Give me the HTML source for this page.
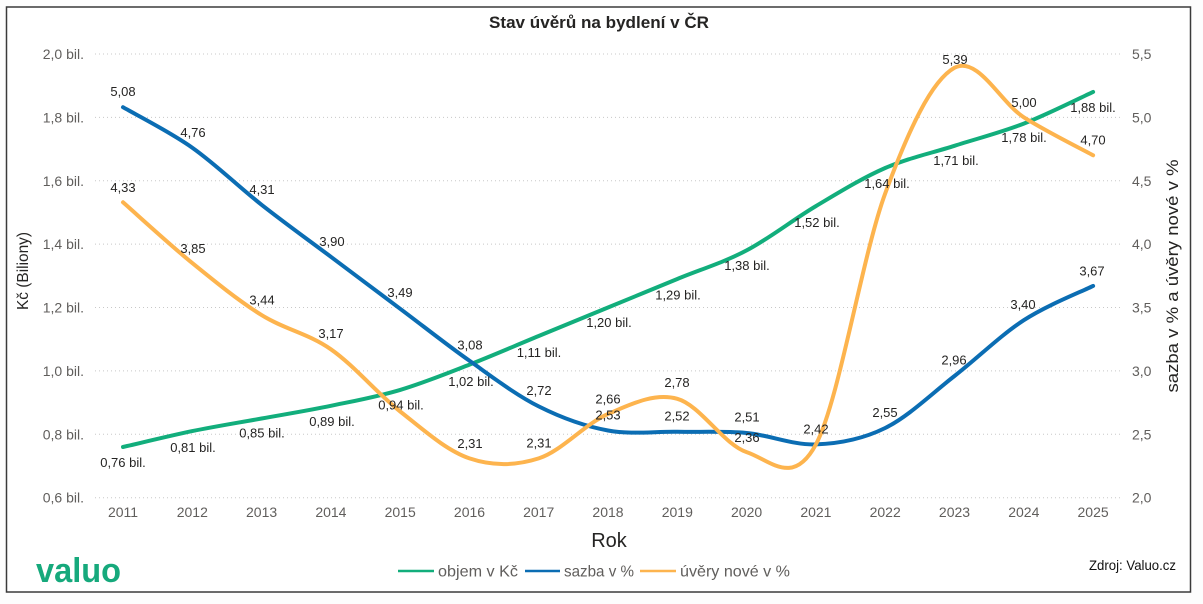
<!DOCTYPE html>
<html>
<head>
<meta charset="utf-8">
<style>
  html, body { margin:0; padding:0; background:#ffffff; }
  body { width:1203px; height:604px; overflow:hidden; }
  svg { display:block; font-family:"Liberation Sans", "DejaVu Sans", sans-serif; }
  .tick { font-size:14px; fill:#605E5C; }
  .lbl { font-size:13px; fill:#252423; text-anchor:middle; }
  .grid { stroke:#c8c8c8; stroke-width:1; stroke-dasharray:1 3; }
</style>
</head>
<body>
<svg width="1203" height="604" viewBox="0 0 1203 604" xmlns="http://www.w3.org/2000/svg">
  <rect x="0" y="0" width="1203" height="604" fill="#fdfdfd"/>
  <rect x="6.5" y="7" width="1184" height="585" fill="#ffffff" stroke="#3a3a3a" stroke-width="1.5"/>

  <!-- Title -->
  <text x="599" y="28" font-size="17" font-weight="bold" fill="#252423" text-anchor="middle" textLength="220" lengthAdjust="spacingAndGlyphs">Stav úvěrů na bydlení v ČR</text>

  <!-- Gridlines -->
  <g class="grid">
    <line x1="95" y1="54" x2="1122" y2="54"/>
    <line x1="95" y1="117.4" x2="1122" y2="117.4"/>
    <line x1="95" y1="180.8" x2="1122" y2="180.8"/>
    <line x1="95" y1="244.1" x2="1122" y2="244.1"/>
    <line x1="95" y1="307.5" x2="1122" y2="307.5"/>
    <line x1="95" y1="370.9" x2="1122" y2="370.9"/>
    <line x1="95" y1="434.3" x2="1122" y2="434.3"/>
    <line x1="95" y1="497.7" x2="1122" y2="497.7"/>
  </g>

  <!-- Left axis ticks -->
  <g class="tick" text-anchor="end">
    <text x="84" y="59">2,0 bil.</text>
    <text x="84" y="122.4">1,8 bil.</text>
    <text x="84" y="185.8">1,6 bil.</text>
    <text x="84" y="249.1">1,4 bil.</text>
    <text x="84" y="312.5">1,2 bil.</text>
    <text x="84" y="375.9">1,0 bil.</text>
    <text x="84" y="439.3">0,8 bil.</text>
    <text x="84" y="502.7">0,6 bil.</text>
  </g>

  <!-- Right axis ticks -->
  <g class="tick" text-anchor="start">
    <text x="1132" y="59">5,5</text>
    <text x="1132" y="122.4">5,0</text>
    <text x="1132" y="185.8">4,5</text>
    <text x="1132" y="249.1">4,0</text>
    <text x="1132" y="312.5">3,5</text>
    <text x="1132" y="375.9">3,0</text>
    <text x="1132" y="439.3">2,5</text>
    <text x="1132" y="502.7">2,0</text>
  </g>

  <!-- X axis ticks -->
  <g class="tick" text-anchor="middle">
    <text x="123.0" y="517">2011</text>
    <text x="192.3" y="517">2012</text>
    <text x="261.6" y="517">2013</text>
    <text x="330.9" y="517">2014</text>
    <text x="400.2" y="517">2015</text>
    <text x="469.5" y="517">2016</text>
    <text x="538.7" y="517">2017</text>
    <text x="608.0" y="517">2018</text>
    <text x="677.3" y="517">2019</text>
    <text x="746.6" y="517">2020</text>
    <text x="815.9" y="517">2021</text>
    <text x="885.2" y="517">2022</text>
    <text x="954.5" y="517">2023</text>
    <text x="1023.8" y="517">2024</text>
    <text x="1093.1" y="517">2025</text>
  </g>

  <!-- Axis titles -->
  <text x="609" y="547" font-size="20" fill="#252423" text-anchor="middle">Rok</text>
  <text transform="translate(28,271) rotate(-90)" font-size="16" fill="#252423" text-anchor="middle" textLength="78" lengthAdjust="spacingAndGlyphs">Kč (Biliony)</text>
  <text transform="translate(1178,276) rotate(-90)" font-size="17" fill="#252423" text-anchor="middle" textLength="233" lengthAdjust="spacingAndGlyphs">sazba v % a úvěry nové v %</text>

  <!-- Series lines -->
  <path fill="none" stroke="#12AE7C" stroke-width="4" stroke-linecap="round" stroke-linejoin="round"
    d="M123.0,447.0 C134.6,444.4 169.2,435.9 192.3,431.1 C215.4,426.4 238.5,422.7 261.6,418.5 C284.7,414.3 307.8,410.6 330.9,405.8 C354.0,401.0 377.1,396.8 400.2,389.9 C423.3,383.0 446.4,373.6 469.5,364.6 C492.6,355.6 515.6,345.5 538.7,336.0 C561.8,326.5 584.9,317.0 608.0,307.5 C631.1,298.0 654.2,288.5 677.3,279.0 C700.4,269.5 723.5,262.6 746.6,250.4 C769.7,238.3 792.8,219.8 815.9,206.1 C839.0,192.4 862.1,178.1 885.2,168.0 C908.3,158.0 931.4,153.2 954.5,145.8 C977.6,138.4 1000.7,132.6 1023.8,123.6 C1046.9,114.6 1081.6,97.2 1093.1,91.9"/>
  <path fill="none" stroke="#0B6DB3" stroke-width="4" stroke-linecap="round" stroke-linejoin="round"
    d="M123.0,107.2 C134.6,114.0 169.2,131.4 192.3,147.7 C215.4,164.0 238.5,186.6 261.6,204.8 C284.7,223.0 307.8,239.5 330.9,256.8 C354.0,274.1 377.1,291.5 400.2,308.8 C423.3,326.1 446.4,344.5 469.5,360.8 C492.6,377.1 515.6,394.8 538.7,406.4 C561.8,418.0 584.9,426.3 608.0,430.5 C631.1,434.7 654.2,431.4 677.3,431.8 C700.4,432.2 723.5,430.9 746.6,433.0 C769.7,435.1 792.8,445.2 815.9,444.4 C839.0,443.6 862.1,439.4 885.2,428.0 C908.3,416.6 931.4,394.0 954.5,376.0 C977.6,358.0 1000.7,335.2 1023.8,320.2 C1046.9,305.2 1081.6,291.6 1093.1,285.9"/>
  <path fill="none" stroke="#FDB44E" stroke-width="4" stroke-linecap="round" stroke-linejoin="round"
    d="M123.0,202.3 C134.6,212.4 169.2,244.3 192.3,263.1 C215.4,281.9 238.5,300.7 261.6,315.1 C284.7,329.5 307.8,333.2 330.9,349.3 C354.0,365.4 377.1,393.3 400.2,411.5 C423.3,429.7 446.4,450.6 469.5,458.4 C492.6,466.2 515.6,465.8 538.7,458.4 C561.8,451.0 584.9,423.9 608.0,414.0 C631.1,404.1 654.2,392.5 677.3,398.8 C700.4,405.2 723.5,444.5 746.6,452.1 C769.7,459.7 792.8,487.5 815.9,444.4 C839.0,401.3 862.1,256.2 885.2,193.4 C908.3,130.6 931.4,80.5 954.5,67.8 C977.6,55.1 1000.7,102.7 1023.8,117.3 C1046.9,131.9 1081.6,149.0 1093.1,155.3"/>

  <!-- Green labels -->
  <g class="lbl">
    <text x="123" y="467.2">0,76 bil.</text>
    <text x="193" y="452.2">0,81 bil.</text>
    <text x="262" y="437.5">0,85 bil.</text>
    <text x="332" y="426.2">0,89 bil.</text>
    <text x="401" y="409.5">0,94 bil.</text>
    <text x="471" y="386.2">1,02 bil.</text>
    <text x="539" y="357.2">1,11 bil.</text>
    <text x="609" y="327.2">1,20 bil.</text>
    <text x="678" y="299.5">1,29 bil.</text>
    <text x="747" y="270.2">1,38 bil.</text>
    <text x="817" y="227.2">1,52 bil.</text>
    <text x="887" y="188">1,64 bil.</text>
    <text x="956" y="165.2">1,71 bil.</text>
    <text x="1024" y="141.8">1,78 bil.</text>
    <text x="1093" y="111.8">1,88 bil.</text>
  </g>

  <!-- Blue labels -->
  <g class="lbl">
    <text x="123" y="96.2">5,08</text>
    <text x="193" y="137.2">4,76</text>
    <text x="262" y="193.8">4,31</text>
    <text x="332" y="246.2">3,90</text>
    <text x="400" y="297.2">3,49</text>
    <text x="470" y="349.5">3,08</text>
    <text x="539" y="395.2">2,72</text>
    <text x="608" y="419.5">2,53</text>
    <text x="677" y="420.5">2,52</text>
    <text x="747" y="421.5">2,51</text>
    <text x="816" y="433.5">2,42</text>
    <text x="885" y="417.2">2,55</text>
    <text x="954" y="364.5">2,96</text>
    <text x="1023" y="308.8">3,40</text>
    <text x="1092" y="275.5">3,67</text>
  </g>

  <!-- Orange labels -->
  <g class="lbl">
    <text x="123" y="191.8">4,33</text>
    <text x="193" y="252.8">3,85</text>
    <text x="262" y="304.5">3,44</text>
    <text x="331" y="337.8">3,17</text>
    <text x="470" y="447.8">2,31</text>
    <text x="539" y="447.5">2,31</text>
    <text x="608" y="403.5">2,66</text>
    <text x="677" y="387.2">2,78</text>
    <text x="747" y="442.2">2,36</text>
    <text x="955" y="63.8">5,39</text>
    <text x="1024" y="107.2">5,00</text>
    <text x="1093" y="144.5">4,70</text>
  </g>

  <!-- Legend -->
  <line x1="398" y1="571" x2="434" y2="571" stroke="#12AE7C" stroke-width="2.5"/>
  <text x="438" y="576.5" font-size="16" fill="#605E5C" textLength="80" lengthAdjust="spacingAndGlyphs">objem v Kč</text>
  <line x1="525" y1="571" x2="560" y2="571" stroke="#0B6DB3" stroke-width="2.5"/>
  <text x="564" y="576.5" font-size="16" fill="#605E5C" textLength="70" lengthAdjust="spacingAndGlyphs">sazba v %</text>
  <line x1="640" y1="571" x2="676" y2="571" stroke="#FDB44E" stroke-width="2.5"/>
  <text x="680" y="576.5" font-size="16" fill="#605E5C" textLength="110" lengthAdjust="spacingAndGlyphs">úvěry nové v %</text>

  <!-- Logo -->
  <text x="36" y="582" font-size="34" font-weight="bold" fill="#16A97C" textLength="85" lengthAdjust="spacingAndGlyphs">valuo</text>

  <!-- Source -->
  <text x="1089" y="570" font-size="14" fill="#111111" textLength="87" lengthAdjust="spacingAndGlyphs">Zdroj: Valuo.cz</text>
</svg>
</body>
</html>
